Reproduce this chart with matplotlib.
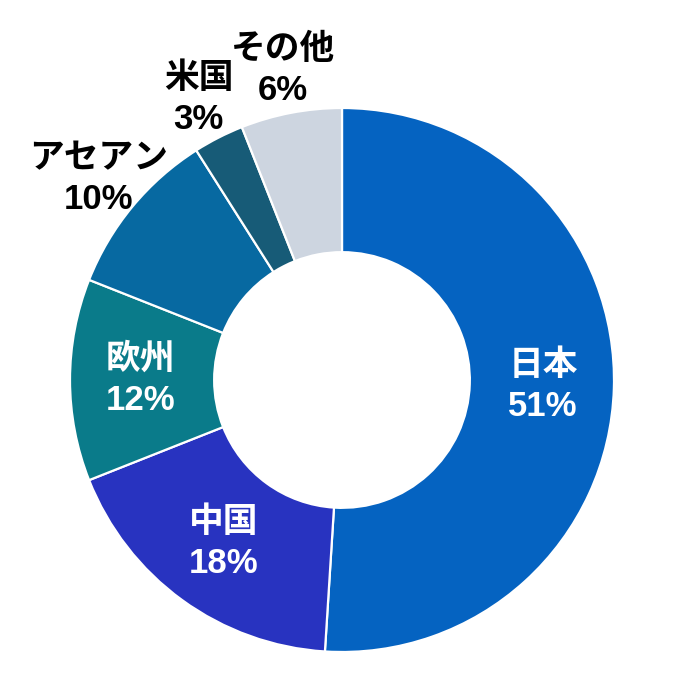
import matplotlib.pyplot as plt
import numpy as np

labels = ['日本', '中国', '欧州', 'アセアン', '米国', 'その他']
shares = [51, 18, 12, 10, 3, 6]
colors = ['#0563C1', '#2833C0', '#0A7B8A', '#0769A1', '#175B77', '#CDD5E0']
inside = [True, True, True, False, False, False]

fam = ['Liberation Sans', 'Noto Sans CJK JP', 'DejaVu Sans']

fig = plt.figure(figsize=(6.84, 6.84), dpi=100)
ax = fig.add_axes([0, 0, 1, 1])

wedges, _ = ax.pie(shares, colors=colors, startangle=90, counterclock=False,
                   radius=1.0,
                   wedgeprops=dict(width=0.53, edgecolor='white', linewidth=1.6))

for w, lab, val, inn in zip(wedges, labels, shares, inside):
    ang = np.deg2rad((w.theta1 + w.theta2) / 2)
    r = 0.74 if inn else 1.16
    x, y = r * np.cos(ang), r * np.sin(ang)
    ax.text(x, y, f'{lab}\n{val}%', ha='center', va='center',
            color='white' if inn else 'black', fontsize=25, fontweight='bold',
            family=fam, linespacing=1.3)

ax.set_xlim(-342 / 272, 342 / 272)
ax.set_ylim(-304 / 272, 380 / 272)
ax.set_aspect('equal')
ax.axis('off')

fig.savefig('out.png', dpi=100)
